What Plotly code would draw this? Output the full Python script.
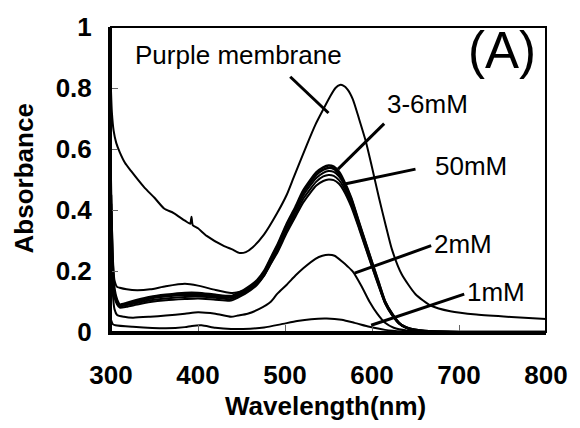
import plotly.graph_objects as go

# ---------------- data ----------------
pm_x = [300, 301, 303, 306, 310, 316, 323, 338, 350, 361, 372, 385, 391, 392.5, 394, 400, 410, 429, 440, 448, 455, 463,
        476, 491, 502, 510, 525, 535, 544, 552, 558, 563, 567, 572, 578, 585, 593, 600, 608, 616, 623, 634, 650, 668,
        690, 720, 760, 800]
pm_y = [0.79, 0.72, 0.66, 0.62, 0.59, 0.555, 0.528, 0.475, 0.44, 0.405, 0.39, 0.365, 0.355, 0.378, 0.35, 0.34, 0.315,
        0.283, 0.27, 0.259, 0.262, 0.278, 0.32, 0.39, 0.45, 0.507, 0.613, 0.68, 0.73, 0.773, 0.80, 0.81, 0.808, 0.795,
        0.763, 0.70, 0.624, 0.54, 0.44, 0.347, 0.27, 0.19, 0.124, 0.086, 0.068, 0.057, 0.049, 0.043]

cl_x = [300, 302, 304, 307, 310, 318, 330, 345, 363, 385, 400, 420, 438, 446, 454, 468, 476, 484, 492, 502, 512, 521,
        536, 544, 550, 556, 562, 567, 576, 585, 593, 601, 608, 615, 623, 631, 638, 646, 655, 670, 700, 800]
c3mM = [0.45, 0.22, 0.14, 0.105, 0.09, 0.095, 0.105, 0.115, 0.122, 0.128, 0.128, 0.122, 0.118, 0.128, 0.14, 0.17, 0.2,
        0.245, 0.29, 0.355, 0.41, 0.464, 0.523, 0.54, 0.546, 0.542, 0.525, 0.50, 0.44, 0.36, 0.29, 0.22, 0.16, 0.10,
        0.06, 0.03, 0.017, 0.009, 0.005, 0.002, 0.0, 0.0]
c4mM = [0.42, 0.2, 0.13, 0.1, 0.088, 0.092, 0.1, 0.11, 0.117, 0.122, 0.122, 0.117, 0.113, 0.123, 0.135, 0.165, 0.195,
        0.24, 0.285, 0.35, 0.405, 0.457, 0.515, 0.532, 0.538, 0.535, 0.518, 0.495, 0.436, 0.357, 0.287, 0.218, 0.158,
        0.1, 0.06, 0.03, 0.017, 0.009, 0.005, 0.002, 0.0, 0.0]
c5mM = [0.40, 0.19, 0.12, 0.095, 0.085, 0.088, 0.095, 0.104, 0.11, 0.115, 0.116, 0.112, 0.108, 0.118, 0.13, 0.16, 0.19,
        0.233, 0.278, 0.342, 0.397, 0.448, 0.505, 0.522, 0.528, 0.525, 0.51, 0.488, 0.43, 0.352, 0.283, 0.214, 0.155,
        0.098, 0.058, 0.029, 0.016, 0.008, 0.004, 0.002, 0.0, 0.0]
c6mM = [0.38, 0.18, 0.115, 0.09, 0.08, 0.083, 0.09, 0.098, 0.104, 0.108, 0.11, 0.106, 0.103, 0.113, 0.125, 0.155,
        0.185, 0.227, 0.27, 0.333, 0.387, 0.437, 0.493, 0.51, 0.515, 0.512, 0.498, 0.477, 0.42, 0.345, 0.276, 0.208,
        0.15, 0.095, 0.056, 0.028, 0.015, 0.008, 0.004, 0.002, 0.0, 0.0]
c50mM = [0.5, 0.25, 0.17, 0.148, 0.145, 0.14, 0.137, 0.14, 0.15, 0.158, 0.152, 0.138, 0.128, 0.13, 0.137, 0.16, 0.185,
         0.225, 0.265, 0.325, 0.378, 0.425, 0.48, 0.495, 0.50, 0.498, 0.486, 0.466, 0.412, 0.34, 0.272, 0.205, 0.148,
         0.094, 0.055, 0.028, 0.015, 0.008, 0.004, 0.002, 0.0, 0.0]

m2_x = [300, 302, 304, 307, 315, 325, 345, 363, 385, 400, 420, 438, 446, 457, 470, 484, 491, 502, 512, 521, 535, 543,
        550, 557, 566, 572, 578, 588, 597, 606, 615, 625, 640, 660, 700, 800]
m2_y = [0.32, 0.13, 0.075, 0.056, 0.05, 0.047, 0.05, 0.054, 0.06, 0.065, 0.06, 0.05, 0.054, 0.06, 0.075, 0.10, 0.125,
        0.155, 0.185, 0.209, 0.24, 0.25, 0.253, 0.25, 0.23, 0.215, 0.198, 0.15, 0.10, 0.06, 0.03, 0.014, 0.005, 0.001,
        0.0, 0.0]

m1_x = [300, 302, 305, 325, 363, 385, 393, 404, 420, 438, 460, 476, 495, 514, 530, 548, 565, 580, 597, 615, 635, 660,
        700, 800]
m1_y = [0.04, 0.026, 0.022, 0.017, 0.012, 0.016, 0.02, 0.022, 0.014, 0.01, 0.011, 0.015, 0.025, 0.036, 0.042, 0.044,
        0.04, 0.03, 0.017, 0.007, 0.002, 0.0, 0.0, 0.0]

x_ticks = [300, 400, 500, 600, 700, 800]
y_ticks = [0, 0.2, 0.4, 0.6, 0.8, 1]
y_ticktext = ["0", "0.2", "0.4", "0.6", "0.8", "1"]

# labels: text, text position (nm, A), leader line start & end (nm, A)
labels = [
    ("Purple membrane", 447, 0.909, (506, 0.837), (550, 0.718)),
    ("3-6mM", 664, 0.747, (614, 0.683), (561, 0.534)),
    ("50mM", 714, 0.543, (650, 0.534), (570, 0.486)),
    ("2mM", 705, 0.288, (668, 0.283), (580, 0.193)),
    ("1mM", 742, 0.131, (706, 0.124), (599, 0.022)),
]

FONT = "Liberation Sans, Arial, sans-serif"

fig = go.Figure()

def add(x, y, w):
    fig.add_trace(go.Scatter(x=x, y=y, mode="lines",
                             line=dict(color="black", width=w, shape="spline", smoothing=0.6),
                             showlegend=False, hoverinfo="skip"))

add(pm_x, pm_y, 2)
add(m1_x, m1_y, 2)
add(m2_x, m2_y, 2)
add(cl_x, c50mM, 2)
add(cl_x, c6mM, 2)
add(cl_x, c5mM, 2)
add(cl_x, c4mM, 2.5)
add(cl_x, c3mM, 2.5)

for text, tx, ty, (x0, y0), (x1, y1) in labels:
    fig.add_shape(type="line", x0=x0, y0=y0, x1=x1, y1=y1, xref="x", yref="y",
                  line=dict(color="black", width=3))
    fig.add_annotation(x=tx, y=ty, text=text, showarrow=False, xref="x", yref="y",
                       xanchor="center", yanchor="middle",
                       font=dict(family=FONT, size=26, color="black"))

fig.add_annotation(x=749, y=0.923, text="(A)", showarrow=False, xref="x", yref="y",
                   xanchor="center", yanchor="middle",
                   font=dict(family=FONT, size=51, color="black"))

# frame (top/right thinner)
fig.add_shape(type="rect", xref="paper", yref="paper", x0=0, y0=0, x1=1, y1=1,
              line=dict(color="black", width=2), layer="above")

fig.add_annotation(x=-0.199, y=0.505, xref="paper", yref="paper", text="<b>Absorbance</b>", showarrow=False,
                   xanchor="center", yanchor="middle", textangle=-90,
                   font=dict(family=FONT, size=26, color="black"))
fig.add_annotation(x=0.493, y=-0.243, xref="paper", yref="paper", text="<b>Wavelength(nm)</b>",
                   xanchor="center", yanchor="middle", showarrow=False,
                   font=dict(family=FONT, size=26, color="black"))

fig.update_xaxes(range=[300, 800], tickvals=x_ticks, ticks="inside", ticklen=7, tickwidth=1, tickcolor="#666",
                 showline=True, linecolor="black", linewidth=3, showgrid=False, zeroline=False,
                 tickfont=dict(family=FONT, size=26, color="black", weight="bold"), ticklabelstandoff=18)
fig.update_yaxes(range=[0, 1], tickvals=y_ticks, ticktext=y_ticktext, ticks="inside", ticklen=7, tickwidth=1,
                 tickcolor="#666", showline=True, linecolor="black", linewidth=3, showgrid=False, zeroline=False,
                 tickfont=dict(family=FONT, size=26, color="black", weight="bold"), ticklabelstandoff=11)

fig.update_layout(width=580, height=428, margin=dict(l=111, r=27, t=19, b=96),
                  paper_bgcolor="white", plot_bgcolor="white")

fig.write_html("out.html")
